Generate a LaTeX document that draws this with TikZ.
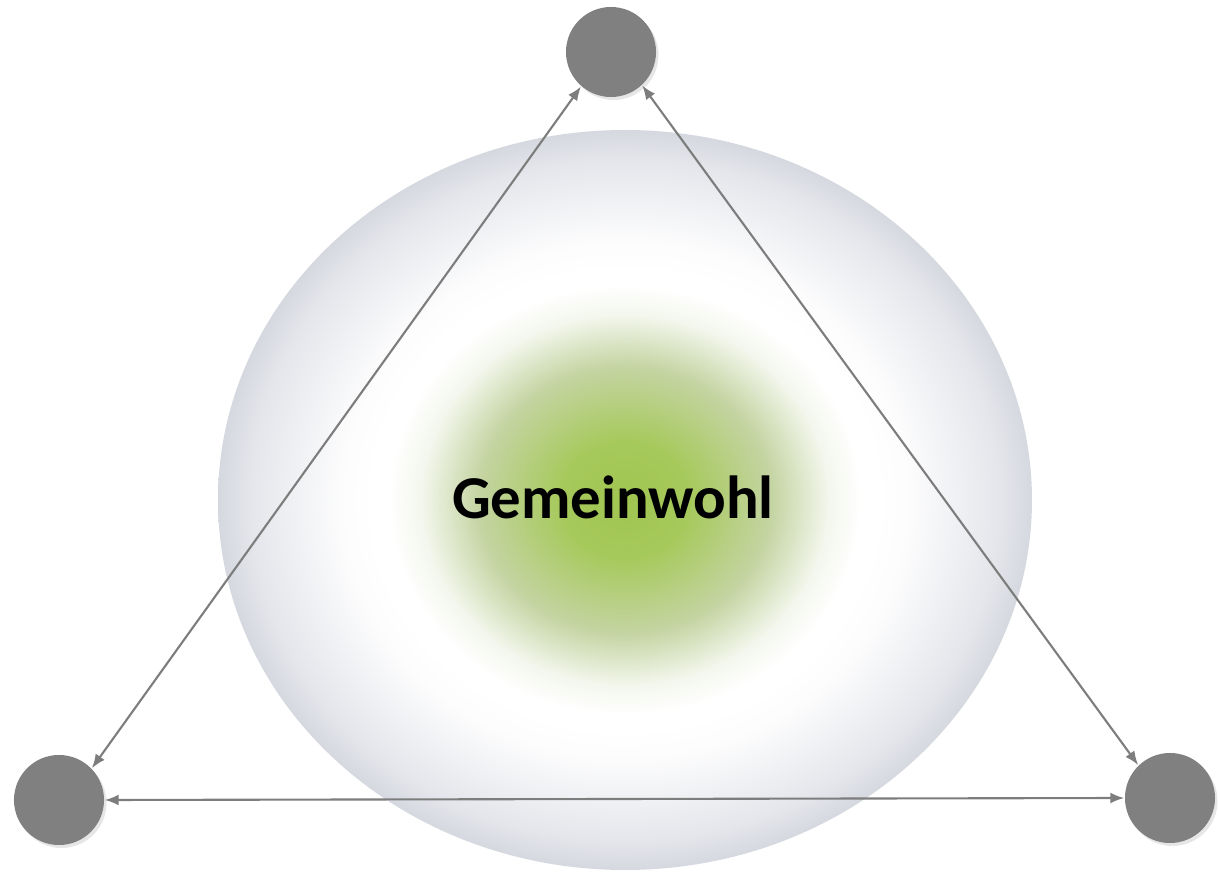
\documentclass[tikz,border=0pt]{standalone}
\usepackage{fontspec}
\setmainfont{Carlito}
\usetikzlibrary{arrows.meta,shadows}

\definecolor{kreisgrau}{RGB}{128,128,128}
\definecolor{liniengrau}{RGB}{125,125,125}
\definecolor{wohlgruen}{RGB}{160,197,80}
\definecolor{hellgruen}{RGB}{196,212,162}
\definecolor{randgrau}{RGB}{214,216,224}
\definecolor{mittelgrau}{RGB}{228,230,235}

% Verlauf: gruen innen, weisser Ring, grauer Rand
\pgfdeclareradialshading{gemeinwohlverlauf}{\pgfpoint{0bp}{0bp}}{%
  color(0bp)=(wohlgruen);
  color(4bp)=(wohlgruen!93!white);
  color(9bp)=(hellgruen);
  color(12.5bp)=(white!80!hellgruen);
  color(14.5bp)=(white);
  color(15.5bp)=(white);
  color(17.5bp)=(white!93!randgrau);
  color(23bp)=(mittelgrau);
  color(25bp)=(randgrau);
  color(50bp)=(randgrau)}

\tikzset{
  ecke/.style={draw=none, circle, fill=kreisgrau, minimum size=0.9cm,
    drop shadow={opacity=0.2, shadow xshift=0.25mm, shadow yshift=-0.3mm}},
  verbindung/.style={<->, line width=0.6pt, liniengrau}
}

\begin{document}
\begin{tikzpicture}[>={Latex[length=1.4mm, width=1.1mm]}, x=0.01cm, y=-0.01cm]
    \useasboundingbox (0,0) rectangle (1220,879);
    % Hintergrund-Ellipse
    \path[shading=gemeinwohlverlauf] (625,500) ellipse [x radius=407, y radius=370];
    % Beschriftung
    \node[font=\bfseries\fontsize{17.3}{20}\selectfont] (wohl) at (613,497) {Gemeinwohl};
    % Eckpunkte
    \node[ecke] (oben) at (611,52) {};
    \node[ecke] (links) at (59,800) {};
    \node[ecke] (rechts) at (1170,798) {};
    % Verbindungen
    \draw[verbindung] (oben.229) -- (links.44);
    \draw[verbindung] (oben.-47) -- (rechts.134);
    \draw[verbindung] (links.0) -- (rechts.180);
\end{tikzpicture}
\end{document}
